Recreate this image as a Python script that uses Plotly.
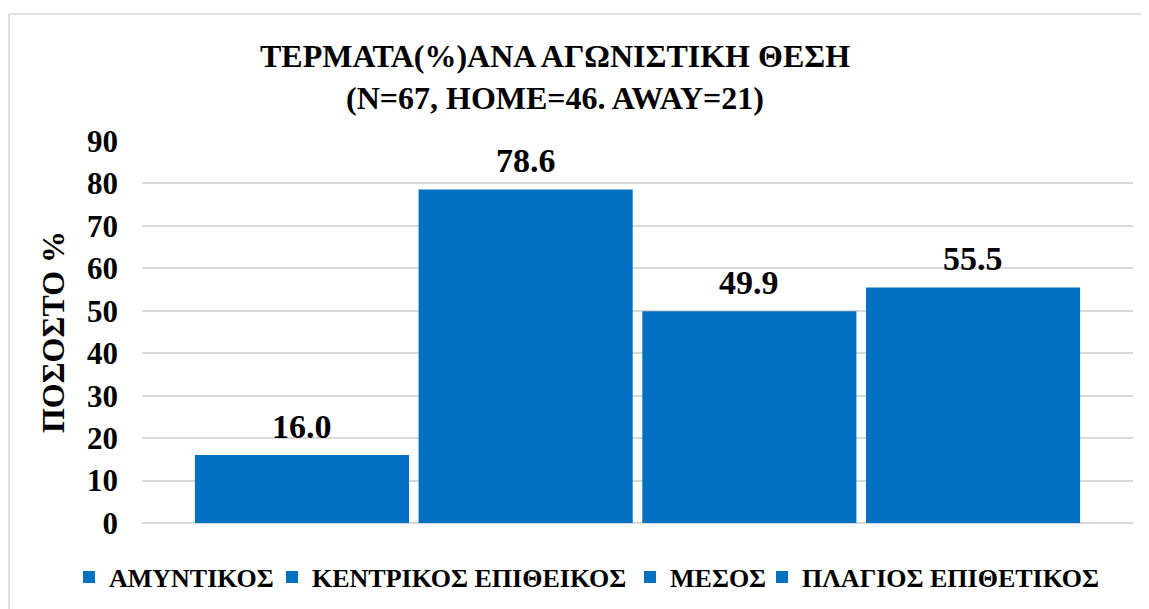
import plotly.graph_objects as go

categories = ["ΑΜΥΝΤΙΚΟΣ", "ΚΕΝΤΡΙΚΟΣ ΕΠΙΘΕΙΚΟΣ", "ΜΕΣΟΣ", "ΠΛΑΓΙΟΣ ΕΠΙΘΕΤΙΚΟΣ"]
values = [16.0, 78.6, 49.9, 55.5]
y_ticks = [0, 10, 20, 30, 40, 50, 60, 70, 80, 90]

BLUE = "#0070C0"
GRID = "#D9D9D9"
FONT = "'Times New Roman', 'Liberation Serif', Tinos, 'DejaVu Serif', serif"

W, H = 1149, 609
OFF = 8  # page body margin offset
ML, MT = 142 - OFF, 141 - OFF
MR = W - (1133 - OFF)
MB = H - (523 - OFF)

# left edge (page px) of each legend entry
legend_left = [69, 272, 630, 762]
legend_ids = ["legend", "legend2", "legend3", "legend4"]

fig = go.Figure()
for name, v, lid in zip(categories, values, legend_ids):
    fig.add_trace(go.Bar(
        x=[name], y=[v], name=name, width=0.957, legend=lid,
        marker=dict(color=BLUE, line=dict(width=0)),
        hoverinfo="name+y",
    ))
    fig.add_annotation(
        x=name, y=v, text=f"<b>{v:.1f}</b>", showarrow=False,
        yanchor="bottom", yshift=8,
        font=dict(family=FONT, size=34, color="black"),
    )

pw = W - ML - MR
ph = H - MT - MB
fig.add_shape(
    type="rect", xref="paper", yref="paper",
    x0=(9 - OFF - ML) / pw, x1=1.2, y0=-1.0, y1=(H - MB - (14 - OFF)) / ph,
    line=dict(color=GRID, width=1.5), fillcolor="rgba(0,0,0,0)", layer="below",
)

legend_style = {}
for lid, lx in zip(legend_ids, legend_left):
    legend_style[lid] = dict(
        orientation="h", xref="container", yref="container",
        x=(lx - OFF) / W, xanchor="left", y=1 - (577 - OFF) / H, yanchor="middle",
        font=dict(family=FONT, size=26, color="black", weight="bold"),
        itemwidth=30, bgcolor="rgba(0,0,0,0)",
    )

fig.update_layout(
    width=W, height=H,
    margin=dict(l=ML, r=MR, t=MT, b=MB, autoexpand=False),
    paper_bgcolor="white", plot_bgcolor="white",
    barmode="overlay",
    font=dict(family=FONT, color="black"),
    title=dict(
        text="<b>ΤΕΡΜΑΤΑ(%)ΑΝΑ ΑΓΩΝΙΣΤΙΚΗ ΘΕΣΗ<br>(N=67, HOME=46. AWAY=21)</b>",
        font=dict(family=FONT, size=32, color="black"),
        xref="container", x=(555 - OFF) / W, xanchor="center",
        yref="container", y=1 - (67 - OFF) / H, yanchor="middle",
    ),
    xaxis=dict(
        type="category", categoryorder="array", categoryarray=categories,
        range=[-0.715, 3.715], showticklabels=False, showgrid=False,
        zeroline=False, showline=False, ticks="",
    ),
    yaxis=dict(
        range=[0, 90], tickvals=y_ticks, showgrid=True, gridcolor=GRID, gridwidth=1.5,
        zeroline=True, zerolinecolor=GRID, zerolinewidth=1.5, showline=False,
        tickfont=dict(family=FONT, size=31, color="black", weight="bold"),
        ticklabelstandoff=23,
        title=dict(text="<b>ΠΟΣΟΣΤΟ %</b>", font=dict(family=FONT, size=32, color="black"), standoff=12),
        automargin=True,
    ),
    showlegend=True,
    **legend_style,
)

fig.write_html("out.html")
